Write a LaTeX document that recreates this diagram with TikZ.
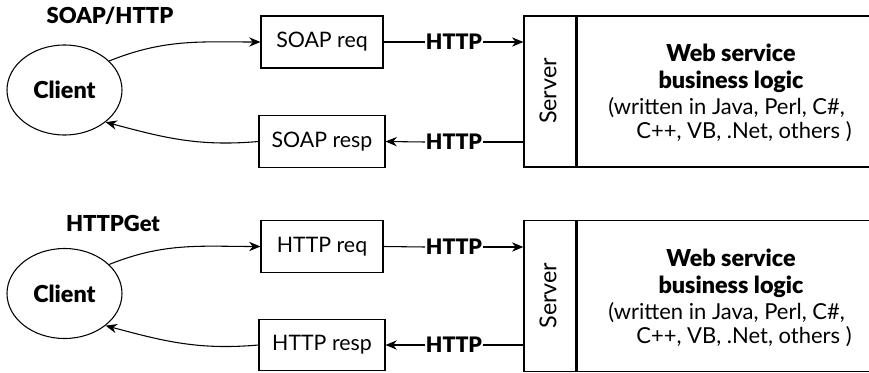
\documentclass[tikz,border=0pt]{standalone}
\usepackage{fontspec}
\setmainfont{Lato}[BoldFont={Lato Black}]
\usetikzlibrary{arrows.meta,shapes.geometric}
\begin{document}
\begin{tikzpicture}[x=0.75pt,y=-0.75pt,
  every node/.style={font=\fontsize{16}{19}\selectfont},
  line/.style={line width=0.8pt},
  arr/.style={line width=0.8pt,-{Stealth[length=8.5pt,width=7pt]}},
  client/.style={draw,line width=0.8pt,ellipse,minimum width=86.25pt,minimum height=67.5pt,inner sep=0,font=\fontsize{17.5}{20}\selectfont\bfseries},
  title/.style={font=\fontsize{16.5}{20}\selectfont\bfseries},
  msgbox/.style={draw,line width=0.8pt,inner sep=0,minimum width=91.5pt,minimum height=39pt},
  respbox/.style={draw,line width=0.8pt,inner sep=0,minimum width=94.5pt,minimum height=38.5pt},
  proto/.style={inner sep=0.5pt,font=\fontsize{16}{19}\selectfont\bfseries},
  srv/.style={draw,line width=1pt,inner sep=0,minimum width=39pt,minimum height=113.25pt},
  logic/.style={draw,line width=1pt,inner sep=0,minimum width=240pt,minimum height=113.25pt},
  srvtext/.style={rotate=90,font=\fontsize{17.5}{20}\selectfont},
  biz/.style={align=center,font=\fontsize{17.5}{20.25}\selectfont\bfseries},
  lang/.style={align=left,font=\fontsize{16.5}{18}\selectfont}]
\clip (0,0) rectangle (869,372);
\fill[white] (0,0) rectangle (869,372);
% ---------- top panel ----------
\node[title] (t1) at (110,16) {SOAP/HTTP};
\node[client] (c1) at (64.5,90) {Client};
\node[msgbox] (q1) at (322,42) {SOAP req};
\node[respbox] (r1) at (322,141.5) {SOAP resp};
\node[srv] (s1) at (550,91.5) {};
\node[srvtext] (sl1) at (548,91) {Server};
\node[logic,anchor=west] (l1) at (s1.east) {};
\node[biz] (b1) at (731,68.5) {Web service\\business logic};
\node[lang] (d1) at (730,120) {(written in Java, Perl, C\#,\\\hspace*{21pt}C++, VB, .Net, others )};
\node[proto] (h1) at (454,42) {HTTP};
\node[proto] (h2) at (454,142) {HTTP};
\draw[arr] (c1.33) to[out=22,in=180] (q1.west);
\draw[line] (q1.east) -- (h1.west);
\draw[arr] (h1.east) -- (h1 -| s1.west);
\draw[line] (h2 -| s1.west) -- (h2.east);
\draw[arr] (h2.west) -- (r1.east);
\draw[arr] (r1.west) to[out=185,in=-15] (c1.-38);
% ---------- bottom panel ----------
\node[title] (t2) at (113,223) {HTTPGet};
\node[client] (c2) at (64.5,293.5) {Client};
\node[msgbox] (q2) at (322,246.5) {HTTP req};
\node[respbox] (r2) at (322,345) {HTTP resp};
\node[srv] (s2) at (550,296) {};
\node[srvtext] (sl2) at (548,295.5) {Server};
\node[logic,anchor=west] (l2) at (s2.east) {};
\node[biz] (b2) at (731,273) {Web service\\business logic};
\node[lang] (d2) at (730,324.5) {(written in Java, Perl, C\#,\\\hspace*{21pt}C++, VB, .Net, others )};
\node[proto] (h3) at (454,247) {HTTP};
\node[proto] (h4) at (454,345) {HTTP};
\draw[arr] (c2.33) to[out=22,in=180] (q2.west);
\draw[line] (q2.east) -- (h3.west);
\draw[arr] (h3.east) -- (h3 -| s2.west);
\draw[line] (h4 -| s2.west) -- (h4.east);
\draw[arr] (h4.west) -- (r2.east);
\draw[arr] (r2.west) to[out=185,in=-15] (c2.-38);
\end{tikzpicture}
\end{document}
